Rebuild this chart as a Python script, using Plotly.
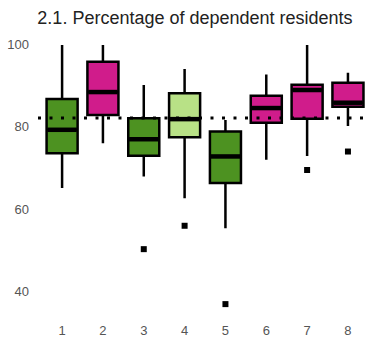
import plotly.graph_objects as go

categories = [1, 2, 3, 4, 5, 6, 7, 8]
q1 = [73.6, 82.9, 73.0, 77.5, 66.3, 81.0, 82.0, 84.9]
median = [79.3, 88.5, 77.0, 81.9, 72.8, 84.6, 89.0, 85.9]
q3 = [86.8, 95.9, 82.1, 88.2, 78.9, 87.6, 90.3, 90.8]
lower = [65.1, 76.0, 67.9, 62.6, 55.3, 72.0, 72.9, 80.2]
upper = [100.0, 100.0, 90.2, 94.1, 81.7, 92.8, 100.0, 93.2]
colors = ["#4d9221", "#d01c8b", "#4d9221", "#b8e186", "#4d9221", "#d01c8b", "#d01c8b", "#d01c8b"]
outlier_x = [3, 4, 5, 7, 8]
outlier_y = [50.2, 55.9, 36.8, 69.5, 74.0]
reference = 82.2

BOX_W = 0.76

fig = go.Figure()
for i, c in enumerate(categories):
    fig.add_trace(go.Box(
        x=[c], q1=[q1[i]], median=[median[i]], q3=[q3[i]],
        lowerfence=[lower[i]], upperfence=[upper[i]],
        fillcolor=colors[i], line=dict(color="black", width=2.5),
        width=BOX_W, boxpoints=False, whiskerwidth=0, hoverinfo="skip",
        showlegend=False,
    ))
    fig.add_trace(go.Scatter(
        x=[c - BOX_W / 2 + 0.02, c + BOX_W / 2 - 0.02], y=[median[i], median[i]],
        mode="lines", line=dict(color="black", width=4.5),
        showlegend=False, hoverinfo="skip",
    ))

fig.add_trace(go.Scatter(
    x=outlier_x, y=outlier_y, mode="markers",
    marker=dict(symbol="square", size=6, color="black"),
    showlegend=False, hoverinfo="skip",
))

fig.add_trace(go.Scatter(
    x=[0.41, 8.54], y=[reference, reference], mode="lines",
    line=dict(color="black", width=3, dash="3px,8.5px"),
    showlegend=False, hoverinfo="skip",
))

fig.update_layout(
    width=370, height=341,
    margin=dict(l=38, r=0, t=33, b=25, autoexpand=False),
    paper_bgcolor="white", plot_bgcolor="white",
    font=dict(family="Liberation Sans, Arial, sans-serif", color="#555555", size=13),
    title=dict(text="2.1. Percentage of dependent residents", x=0.527, xref="container",
               xanchor="center", y=0.947, yref="container", yanchor="middle",
               font=dict(size=18, color="#222222"), automargin=False),
    xaxis=dict(range=[0.41, 8.54], tickvals=categories, ticktext=[str(c) for c in categories],
               showgrid=False, zeroline=False, showline=False, ticks="", automargin=False,
               ticklabelstandoff=5, tickfont=dict(color="#555555")),
    yaxis=dict(range=[33.9, 102.9], tickvals=[40, 60, 80, 100], automargin=False,
               showgrid=False, zeroline=False, showline=False, ticks="", ticklabelstandoff=8,
               tickfont=dict(color="#555555")),
)

fig.write_html("out.html", config={"displayModeBar": False, "staticPlot": True},
               post_script="document.body.style.margin='0';document.body.style.overflow='hidden';")
